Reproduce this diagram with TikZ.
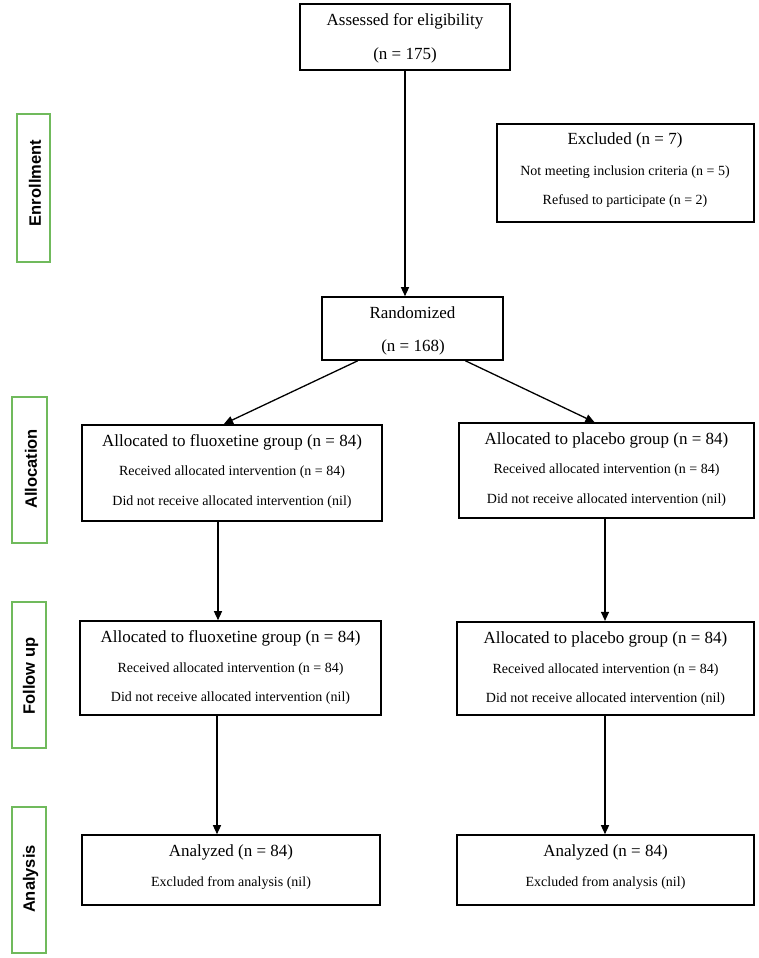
\documentclass[tikz,border=0pt]{standalone}
\usepackage{fontspec}
\setmainfont{Liberation Serif}
\newfontfamily\sidefont{Liberation Sans}
\usetikzlibrary{arrows.meta,calc}
\definecolor{sidegreen}{RGB}{112,186,92}
\begin{document}
\begin{tikzpicture}[x=1pt,y=-1pt,
  box/.style={draw=black,line width=1.6pt,inner sep=0pt},
  thickbox/.style={box,line width=2.2pt},
  big/.style={font=\fontsize{17}{20}\selectfont,inner sep=0pt,anchor=center},
  small/.style={font=\fontsize{14}{17}\selectfont,inner sep=0pt,anchor=center},
  side/.style={draw=sidegreen,line width=1.7pt,inner sep=0pt},
  sidetext/.style={font=\sidefont\bfseries\fontsize{16.5}{19}\selectfont,rotate=90,inner sep=0pt,anchor=center},
  arr/.style={line width=1.3pt,-{Triangle[length=9pt,width=8pt]}}
]
\useasboundingbox (0,0) rectangle (758,958);

% side labels
\node[side,minimum width=33pt,minimum height=148pt] (sEnr) at (33.5,188) {};
\node[sidetext] (tEnr) at (35,183) {Enrollment};
\node[side,minimum width=35pt,minimum height=146pt] (sAll) at (29.5,470) {};
\node[sidetext] (tAll) at (31,469) {Allocation};
\node[side,minimum width=34pt,minimum height=146pt] (sFol) at (29,675) {};
\node[sidetext] (tFol) at (30.5,676) {Follow up};
\node[side,minimum width=34pt,minimum height=146pt] (sAna) at (29,880) {};
\node[sidetext] (tAna) at (30.5,879) {Analysis};

% boxes
\node[thickbox,minimum width=210pt,minimum height=66pt] (assess) at (405,37) {};
\node[big] (assess1) at (405,21) {Assessed for eligibility};
\node[big] (assess2) at (405,55) {(n = 175)};

\node[thickbox,minimum width=257pt,minimum height=98pt] (excl) at (625.5,173) {};
\node[big] (excl1) at (625,140) {Excluded (n = 7)};
\node[small] (excl2) at (625,172) {Not meeting inclusion criteria (n = 5)};
\node[small] (excl3) at (625,201) {Refused to participate (n = 2)};

\node[box,minimum width=181pt,minimum height=63pt] (rand) at (412.5,328.5) {};
\node[big] (rand1) at (412.5,313) {Randomized};
\node[big] (rand2) at (413,347) {(n = 168)};

\node[thickbox,minimum width=300pt,minimum height=96pt] (allocL) at (232,473) {};
\node[big] (allocL1) at (232,442) {Allocated to fluoxetine group (n = 84)};
\node[small] (allocL2) at (232,472) {Received allocated intervention (n = 84)};
\node[small] (allocL3) at (232,502) {Did not receive allocated intervention (nil)};

\node[box,minimum width=295pt,minimum height=95pt] (allocR) at (606.5,470.5) {};
\node[big] (allocR1) at (606.5,440) {Allocated to placebo group (n = 84)};
\node[small] (allocR2) at (606.5,470) {Received allocated intervention (n = 84)};
\node[small] (allocR3) at (606.5,500) {Did not receive allocated intervention (nil)};

\node[box,minimum width=301pt,minimum height=94pt] (followL) at (230.5,668) {};
\node[big] (followL1) at (230.5,638) {Allocated to fluoxetine group (n = 84)};
\node[small] (followL2) at (230.5,669) {Received allocated intervention (n = 84)};
\node[small] (followL3) at (230.5,698) {Did not receive allocated intervention (nil)};

\node[thickbox,minimum width=297pt,minimum height=93pt] (followR) at (605.5,668.5) {};
\node[big] (followR1) at (605.5,639) {Allocated to placebo group (n = 84)};
\node[small] (followR2) at (605.5,670) {Received allocated intervention (n = 84)};
\node[small] (followR3) at (605.5,699) {Did not receive allocated intervention (nil)};

\node[box,minimum width=298pt,minimum height=70pt] (analL) at (231,870) {};
\node[big] (analL1) at (231,852) {Analyzed (n = 84)};
\node[small] (analL2) at (231,883) {Excluded from analysis (nil)};

\node[box,minimum width=297pt,minimum height=70pt] (analR) at (605.5,870) {};
\node[big] (analR1) at (605.5,852) {Analyzed (n = 84)};
\node[small] (analR2) at (605.5,883) {Excluded from analysis (nil)};

% connectors
\draw[arr] (assess.south) -- (assess.south |- rand.north);

\coordinate (rL) at ($(rand.south west)!0.2!(rand.south east)$);
\coordinate (rR) at ($(rand.south west)!0.79!(rand.south east)$);
\coordinate (aLt) at ($(allocL.north)+(-8,0)$);
\coordinate (aRt) at ($(allocR.north)+(-12,0)$);
\draw[arr] (rL) -- (aLt);
\draw[arr] (rR) -- (aRt);

\coordinate (aLb) at ($(allocL.south)+(-14,0)$);
\coordinate (fLt) at (aLb |- followL.north);
\draw[arr] (aLb) -- (fLt);
\coordinate (aRb) at ($(allocR.south)+(-1.5,0)$);
\coordinate (fRt) at (aRb |- followR.north);
\draw[arr] (aRb) -- (fRt);

\coordinate (fLb) at ($(followL.south)+(-13.5,0)$);
\coordinate (nLt) at (fLb |- analL.north);
\draw[arr] (fLb) -- (nLt);
\coordinate (fRb) at ($(followR.south)+(-0.5,0)$);
\coordinate (nRt) at (fRb |- analR.north);
\draw[arr] (fRb) -- (nRt);
\end{tikzpicture}
\end{document}
